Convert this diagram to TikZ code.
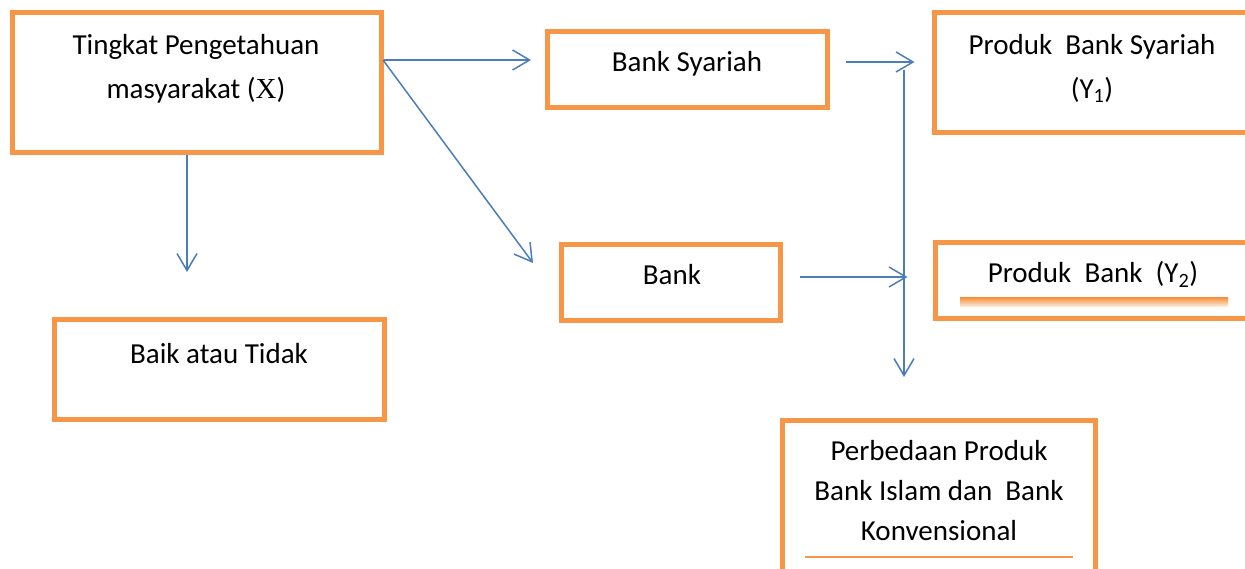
\documentclass[tikz,border=0pt]{standalone}
\usepackage{fontspec}
\setmainfont{Carlito}
\newfontfamily\xfont{Liberation Serif}
\usetikzlibrary{arrows.meta}
\definecolor{boxorange}{HTML}{F79646}
\definecolor{arrblue}{HTML}{4A7EBB}
\tikzset{
  box/.style={draw=boxorange, line width=5pt, rectangle, inner sep=0pt},
  txt/.style={font=\fontsize{29}{44}\selectfont, align=center, inner sep=0pt},
  arr/.style={draw=arrblue, line width=1.5pt, -{Straight Barb[length=17pt,width=20pt]}}
}
\begin{document}
\begin{tikzpicture}[x=1pt,y=-1pt]
  \useasboundingbox[fill=white] (0,0) rectangle (1245,569);
  % boxes (the right column runs off the page)
  \node[box, minimum width=369pt, minimum height=140pt] (know) at (197,82.5) {};
  \node[box, minimum width=330pt, minimum height=100pt] (baik) at (219.5,369.5) {};
  \node[box, minimum width=280pt, minimum height=76pt] (sya) at (687.5,69.5) {};
  \node[box, minimum width=219pt, minimum height=76pt] (bank) at (671,282.5) {};
  \node[box, minimum width=318pt, minimum height=120pt] (prodsya) at (1093.5,72.5) {};
  \node[box, minimum width=317pt, minimum height=76pt] (prodbank) at (1094,280.5) {};
  \node[box, minimum width=313pt, minimum height=157pt] (beda) at (939,499) {};
  % texts
  \node[txt] (knowtxt) at (196,68.5) {Tingkat Pengetahuan\\masyarakat ({\xfont X})};
  \node[txt, anchor=base] (baiktxt) at (219,363) {Baik atau Tidak};
  \node[txt, anchor=base] (syatxt) at (687,72) {Bank Syariah};
  \node[txt, anchor=base] (banktxt) at (672,285) {Bank};
  \node[txt] (prodsyatxt) at (1092,68.5) {Produk\ \ Bank Syariah\\(Y\textsubscript{1})};
  \node[txt, anchor=base] (prodbanktxt) at (1093,283) {Produk\ \ Bank\ \ (Y\textsubscript{2})};
  \node[txt, font=\fontsize{29}{40}\selectfont] (bedatxt) at (939,490.5)
    {Perbedaan Produk\\Bank Islam dan\ \ Bank\\Konvensional};
  % underlines
  \shade[top color=boxorange, bottom color=boxorange!12] (960,298) rectangle (1228,307);
  \draw[boxorange, line width=2.5pt] (805,557) -- (1073,557);
  % connectors
  \coordinate (fork) at (383,60);
  \coordinate (bankin) at (533,263);
  \coordinate (baikin) at (187,272);
  \coordinate (ytop) at (904,62);
  \coordinate (ybank) at (904,277);
  \coordinate (trunktop) at (904,70);
  \coordinate (trunkend) at (904,377);
  \draw[arr, shorten >=14pt] (know.east |- fork) -- (sya.west |- fork);
  \draw[arr] (fork) -- (bankin);
  \draw[arr] (know.south -| baikin) -- (baikin);
  \draw[arr, shorten <=15.5pt, shorten >=17.5pt] (sya.east |- ytop) -- (prodsya.west |- ytop);
  \draw[arr, shorten <=16.5pt, shorten >=25.5pt] (bank.east |- ybank) -- (prodbank.west |- ybank);
  \draw[arr] (trunktop) -- (trunkend);
\end{tikzpicture}
\end{document}
